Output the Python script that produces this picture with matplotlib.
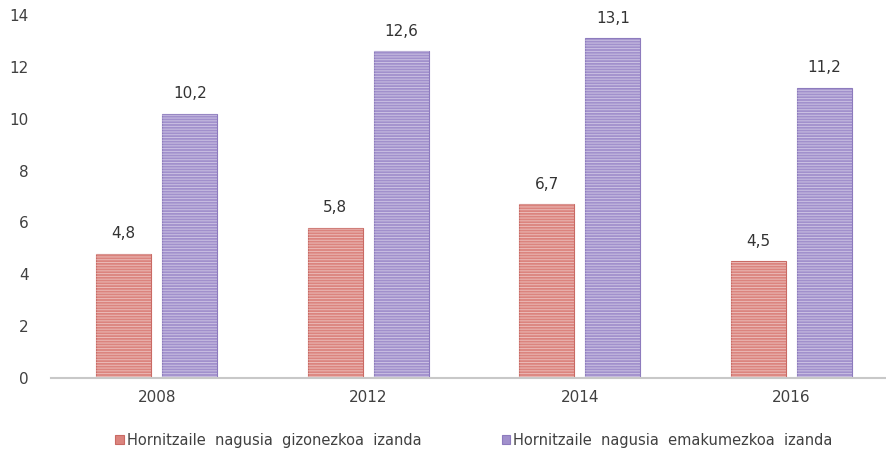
import numpy as np
import matplotlib.pyplot as plt

years = ["2008", "2012", "2014", "2016"]
gizon = [4.8, 5.8, 6.7, 4.5]
emakume = [10.2, 12.6, 13.1, 11.2]
labels = ["Hornitzaile  nagusia  gizonezkoa  izanda",
          "Hornitzaile  nagusia  emakumezkoa  izanda"]
yticks = [0, 2, 4, 6, 8, 10, 12, 14]

red = "#db847e"
red_edge = "#c96a64"
purple = "#a190cc"
purple_edge = "#8d7bbd"

plt.rcParams['font.family'] = ['DejaVu Sans']
plt.rcParams['hatch.linewidth'] = 0.7

fig = plt.figure(figsize=(8.86, 4.51), dpi=100)
ax = fig.add_axes([51/886, 1 - 378/451, 846/886, 363/451])

x = np.arange(len(years))
w = 0.26
off = 0.157

for vals, col, ecol, lab, sgn in [(gizon, red, red_edge, labels[0], -1),
                                  (emakume, purple, purple_edge, labels[1], 1)]:
    ax.bar(x + sgn * off, vals, w, color=col, edgecolor=ecol, linewidth=0.8, label=lab)
    ax.bar(x + sgn * off, vals, w, color='none', edgecolor=(1, 1, 1, 0.45),
           linewidth=0, hatch='------')
    for xi, v in zip(x, vals):
        ax.annotate(f"{v:.1f}".replace('.', ','), (xi + sgn * off, v),
                    xytext=(0, 9), textcoords='offset points',
                    ha='center', va='bottom', fontsize=11, color='#333333')

ax.set_xlim(-0.5, 3.5)
ax.set_ylim(0, 14)
ax.set_yticks(yticks)
ax.set_xticks(x)
ax.set_xticklabels(years)
ax.tick_params(axis='both', length=0, labelsize=11, colors='#404040')
ax.tick_params(axis='y', pad=16)
ax.tick_params(axis='x', pad=9)
for s in ['top', 'right', 'left']:
    ax.spines[s].set_visible(False)
ax.spines['bottom'].set_color('#c8c8c8')
ax.spines['bottom'].set_linewidth(1.5)

handles, hl = ax.get_legend_handles_labels()
fig.legend(handles, hl, loc='center', bbox_to_anchor=(0.535, 1 - 440/451),
           ncol=2, frameon=False, fontsize=10.5, handlelength=0.6, handleheight=0.6,
           handletextpad=0.2, columnspacing=5.5, labelcolor='#404040')

fig.savefig("out.png", dpi=100)
